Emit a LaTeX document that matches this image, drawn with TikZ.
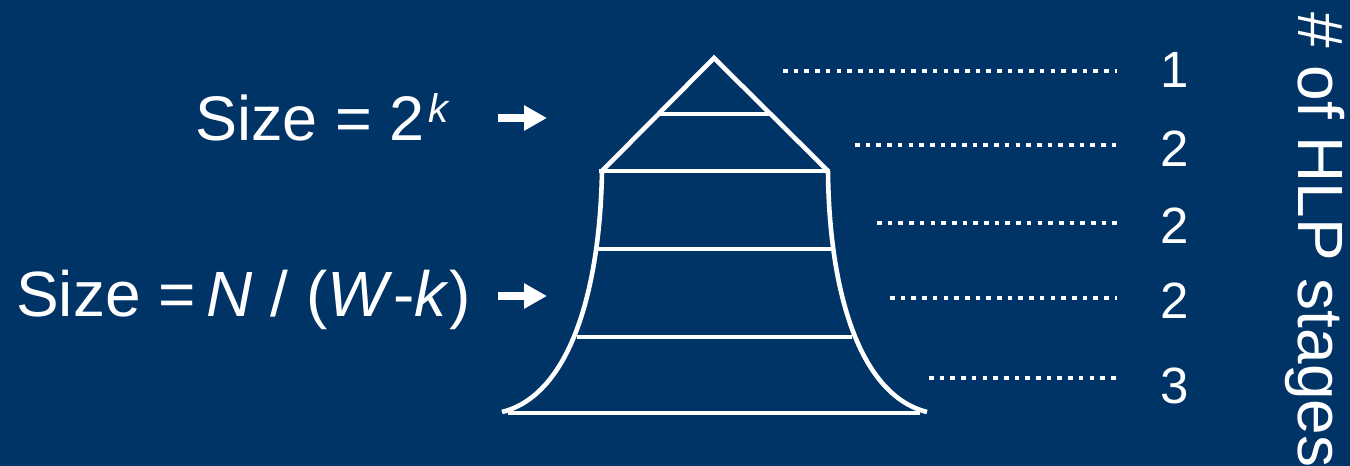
\documentclass[tikz,border=0pt]{standalone}
\usepackage{fontspec}
\setmainfont{Liberation Sans}
\usetikzlibrary{arrows.meta}
\definecolor{navy}{RGB}{0,51,102}
\tikzset{
  shape line/.style={draw=white, line width=4.6pt},
  dotline/.style={draw=white, line width=4.6pt, dash pattern=on 4.6pt off 6.1pt},
  pointer/.style={draw=white, line width=8pt, -{Triangle[length=23pt,width=24pt]}},
  bigtext/.style={text=white, inner sep=0pt, font=\fontsize{63}{74}\selectfont},
  numtext/.style={text=white, inner sep=0pt, font=\fontsize{51}{60}\selectfont}
}
\begin{document}
\begin{tikzpicture}[x=1pt,y=-1pt]
\useasboundingbox (0,0) rectangle (1350,466);
\fill[navy] (0,0) rectangle (1350,466);

% pyramid
\coordinate (apex) at (714,58);
\coordinate (tl) at (602,171);
\coordinate (tr) at (828,171);
\coordinate (bl) at (502,412);
\coordinate (br) at (927,412);
\draw[shape line, line join=miter] (tl) -- (apex) -- (tr);
\draw[shape line] (tl) .. controls (600,290) and (570,395) .. (bl);
\draw[shape line] (tr) .. controls (829,290) and (859,395) .. (br);
\draw[shape line] (659,114) -- (770,114);
\draw[shape line] (599,171) -- (830,171);
\draw[shape line] (598,249) -- (831,249);
\draw[shape line] (577,337) -- (852,337);
\draw[shape line] (508,413) -- (920,413);

% labels on the left
\node[bigtext, anchor=base west] (s1) at (195,140) {Size = 2\hspace{4pt}\raisebox{18pt}{\fontsize{40}{40}\selectfont\textit{k}}};
\node[bigtext, anchor=base west, font=\fontsize{64}{76}\selectfont] (s2) at (16,316) {Size =\hspace{11pt}\textit{N} / (\textit{W}-\textit{k})};
\coordinate (a1s) at (498,118);
\coordinate (a1e) at (547,118);
\coordinate (a2s) at (498,296);
\coordinate (a2e) at (547,296);
\draw[pointer] (a1s) -- (a1e);
\draw[pointer] (a2s) -- (a2e);

% dotted lines and numbers
\node[numtext, anchor=base] (n1) at (1175,87) {1};
\node[numtext, anchor=base] (n2) at (1175,166) {2};
\node[numtext, anchor=base] (n3) at (1175,243) {2};
\node[numtext, anchor=base] (n4) at (1175,318) {2};
\node[numtext, anchor=base] (n5) at (1175,403) {3};
\coordinate (d1s) at (783,71);  \coordinate (d1e) at (1117,71);
\coordinate (d2s) at (855,145); \coordinate (d2e) at (1117,145);
\coordinate (d3s) at (877,223); \coordinate (d3e) at (1117,223);
\coordinate (d4s) at (890,298); \coordinate (d4e) at (1117,298);
\coordinate (d5s) at (929,378); \coordinate (d5e) at (1117,378);
\draw[dotline] (d1s) -- (d1e);
\draw[dotline] (d2s) -- (d2e);
\draw[dotline] (d3s) -- (d3e);
\draw[dotline] (d4s) -- (d4e);
\draw[dotline] (d5s) -- (d5e);

% vertical title
\node[bigtext, rotate=-90, anchor=base west, font=\fontsize{64}{76}\selectfont] (title) at (1298,12) {\# of HLP stages};
\end{tikzpicture}
\end{document}
